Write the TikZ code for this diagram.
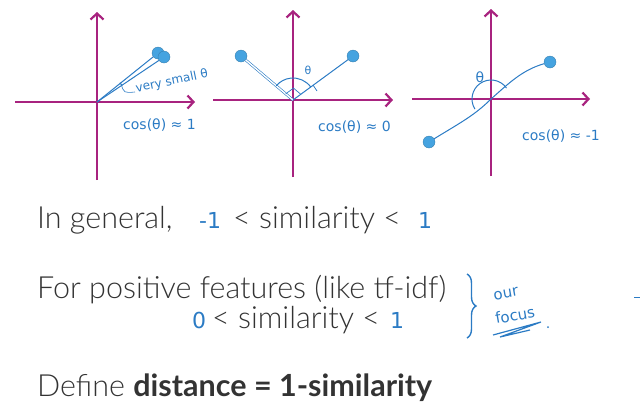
\documentclass[tikz,border=0pt]{standalone}
\usepackage{fontspec}
\setmainfont{Lato}[UprightFont=* Light, BoldFont=* Bold]
\newfontfamily\handfont{DejaVu Sans}
\usetikzlibrary{arrows.meta,calc,decorations.pathreplacing}
\definecolor{axiscol}{HTML}{A8237F}
\definecolor{inkblue}{HTML}{2B7BC4}
\definecolor{dotblue}{HTML}{45A3E0}
\definecolor{textgray}{HTML}{333333}

\begin{document}
\begin{tikzpicture}[x=1pt,y=-1pt,
    axis/.style={axiscol, line width=2.2pt, -{Straight Barb[length=6pt,width=13pt]}},
    vec/.style={inkblue, line width=1pt},
    dot/.style={circle, fill=dotblue, draw=dotblue!75!black, line width=0.3pt, inner sep=0pt, minimum size=12pt},
    hand/.style={inkblue, font=\handfont\fontsize{14}{16}\selectfont, inner sep=0pt},
    bighand/.style={inkblue, font=\handfont\fontsize{22}{26}\selectfont, inner sep=0pt, anchor=base west},
    txt/.style={textgray, font=\fontsize{30.5}{34}\selectfont, inner sep=0pt, anchor=base west}]
    \useasboundingbox (0,0) rectangle (640,408);

    % Panel 1: nearly the same direction
    \coordinate (o1) at (97,102);
    \draw[axis] (15,102) -- (195,102);
    \draw[axis] (97,180) -- (97,12);
    \node[dot] (a1) at (158,53) {};
    \node[dot] (b1) at (164,57) {};
    \draw[vec] (o1) -- (a1);
    \draw[vec] (o1) -- (b1);
    \draw[vec] (o1) ++(-33:30) arc[start angle=-33, end angle=-40, radius=30];
    \draw[vec, line width=0.6pt] (121,84) .. controls (124,93) .. (135,92);
    \node[hand, font=\handfont\fontsize{12}{14}\selectfont, rotate=12, anchor=south west] (vs1) at (137,95) {very small θ};
    \node[hand, anchor=west] (c1) at (123,125) {cos(θ) ≈ 1};

    % Panel 2: right angle
    \coordinate (o2) at (293,100);
    \draw[axis] (213,100) -- (393,100);
    \draw[axis] (293,177) -- (293,10);
    \node[dot] (l2) at (241,56) {};
    \node[dot] (r2) at (353,56) {};
    \draw[vec, line width=0.6pt, double=white, double distance=1.4pt] (o2) -- (l2);
    \draw[vec] (o2) -- (r2);
    \draw[vec] (o2) ++(-36:22) arc[start angle=-36, end angle=-140, radius=22];
    \coordinate (p2r) at ($(o2)!0.13!(r2)$);
    \coordinate (p2l) at ($(o2)!0.14!(l2)$);
    \draw[vec, line width=0.7pt] (p2l) -- ($(p2l)+(p2r)-(o2)$) -- (p2r);
    \draw[vec, line width=0.7pt] (313,85) -- (317,91);
    \node[hand, font=\handfont\fontsize{11}{13}\selectfont] (t2) at (308,70) {θ};
    \node[hand, anchor=west] (c2) at (318,127) {cos(θ) ≈ 0};

    % Panel 3: opposite directions
    \coordinate (o3) at (491,99);
    \draw[axis] (412,99) -- (590,99);
    \draw[axis] (491,176) -- (491,9);
    \node[dot] (l3) at (429,142) {};
    \node[dot] (r3) at (550,62) {};
    \draw[vec] (l3) .. controls (458,124) and (474,116) .. (o3)
        .. controls (508,84) and (522,70) .. (r3);
    \draw[vec] (o3) ++(-35:19) arc[start angle=-35, end angle=-212, radius=19];
    \node[hand] (t3) at (480,77) {θ};
    \node[hand, anchor=west] (c3) at (522,136) {cos(θ) ≈ -1};

    % Text
    \node[txt] (gen) at (37,228) {In general,};
    \node[bighand] (lo) at (199,228) {-1};
    \node[txt] (sim1) at (233,228) {< similarity <};
    \node[bighand] (hi) at (418,228) {1};
    \node[txt] (pos) at (37,298) {For positive features (like tf-idf)};
    \node[bighand] (zero) at (192,328) {0};
    \node[txt] (sim2) at (212,328) {< similarity <};
    \node[bighand] (one) at (390,328) {1};
    % Brace and note
    \draw[vec, line width=1.4pt, decorate, decoration={brace, amplitude=9pt}] (467,274) -- (467,338);
    \node[hand, font=\handfont\fontsize{15}{17}\selectfont, rotate=10] (our) at (506,294) {our};
    \node[hand, font=\handfont\fontsize{15}{17}\selectfont, rotate=10] (focus) at (515,315) {focus};
    \draw[vec, line width=1.2pt] (493,335) -- (541,322) -- (500,337) -- (530,330);
    \fill[inkblue] (548,327) circle (1pt);
    \draw[vec] (634,297) -- (640,297);
    \node[txt] (def) at (37,396) {Define \textbf{distance = 1-similarity}};
\end{tikzpicture}
\end{document}
